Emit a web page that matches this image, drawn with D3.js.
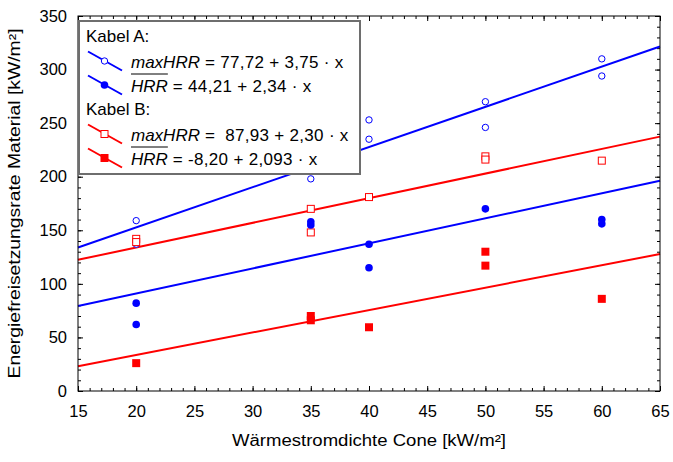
<!DOCTYPE html>
<html>
<head>
<meta charset="utf-8">
<script src="https://cdn.jsdelivr.net/npm/d3@7"></script>
<style>
  html, body { margin: 0; padding: 0; background: #ffffff; }
  svg text { font-family: "Liberation Sans", Arial, sans-serif; fill: #000; }
</style>
</head>
<body>
<svg id="chart" width="673" height="462"></svg>
<script>
// -----------------------------
// Data
// -----------------------------
// Kabel A, maxHRR (open circles)
const aMaxX = [20, 20, 35, 40, 40, 50, 50, 60, 60];
const aMaxY = [159, 137, 198, 253, 235, 270, 246, 310, 294];
// Kabel A, mean HRR (filled circles)
const aMeanX = [20, 20, 35, 35, 40, 40, 50, 60, 60];
const aMeanY = [82, 62, 158, 155, 137, 115, 170, 160, 156];
// Kabel B, maxHRR (open squares)
const bMaxX = [20, 20, 35, 35, 40, 50, 50, 60];
const bMaxY = [142, 139, 170, 148, 181, 219, 216, 215];
// Kabel B, mean HRR (filled squares)
const bMeanX = [20, 35, 35, 40, 50, 50, 60];
const bMeanY = [26, 70, 66, 59.5, 130, 117, 86];

// regression lines: intercept + slope * x
const fitNames = ["aMax", "aMean", "bMax", "bMean"];
const fitIntercepts = [77.72, 44.21, 87.93, -8.20];
const fitSlopes = [3.75, 2.34, 2.30, 2.093];
const fitColors = ["#0000ff", "#0000ff", "#ff0000", "#ff0000"];

const xTicks = [15, 20, 25, 30, 35, 40, 45, 50, 55, 60, 65];
const yTicks = [0, 50, 100, 150, 200, 250, 300, 350];

const xTitle = "Wärmestromdichte Cone [kW/m²]";
const yTitle = "Energiefreisetzungsrate Material [kW/m²]";

// -----------------------------
// Scales
// -----------------------------
const svg = d3.select("#chart");
const plotLeft = 78, plotRight = 660, plotTop = 16, plotBottom = 391;

const x = d3.scaleLinear().domain([15, 65]).range([plotLeft, plotRight]);
const y = d3.scaleLinear().domain([0, 350]).range([plotBottom, plotTop]);

// -----------------------------
// Axes (ticks point inward)
// -----------------------------
function styleAxis(g) {
  g.select(".domain").remove();
  g.selectAll("line").attr("stroke", "#000").attr("stroke-width", 1);
  g.selectAll("text").style("font-size", "16.5px").attr("fill", "#000");
}

// bottom
svg.append("g")
  .attr("transform", `translate(0,${plotBottom})`)
  .call(d3.axisBottom(x).tickValues(d3.range(15, 66, 1)).tickSize(-3).tickFormat(""))
  .call(styleAxis);
svg.append("g")
  .attr("transform", `translate(0,${plotBottom})`)
  .call(d3.axisBottom(x).tickValues(xTicks).tickSize(-5).tickPadding(14).tickFormat(d3.format("d")))
  .call(styleAxis);
// top
svg.append("g")
  .attr("transform", `translate(0,${plotTop})`)
  .call(d3.axisTop(x).tickValues(d3.range(15, 66, 1)).tickSize(-3).tickFormat(""))
  .call(styleAxis);
svg.append("g")
  .attr("transform", `translate(0,${plotTop})`)
  .call(d3.axisTop(x).tickValues(xTicks).tickSize(-5).tickFormat(""))
  .call(styleAxis);
// left
svg.append("g")
  .attr("transform", `translate(${plotLeft},0)`)
  .call(d3.axisLeft(y).tickValues(d3.range(0, 351, 10)).tickSize(-3).tickFormat(""))
  .call(styleAxis);
svg.append("g")
  .attr("transform", `translate(${plotLeft},0)`)
  .call(d3.axisLeft(y).tickValues(yTicks).tickSize(-5).tickPadding(11).tickFormat(d3.format("d")))
  .call(styleAxis);
// right
svg.append("g")
  .attr("transform", `translate(${plotRight},0)`)
  .call(d3.axisRight(y).tickValues(d3.range(0, 351, 10)).tickSize(-3).tickFormat(""))
  .call(styleAxis);
svg.append("g")
  .attr("transform", `translate(${plotRight},0)`)
  .call(d3.axisRight(y).tickValues(yTicks).tickSize(-5).tickFormat(""))
  .call(styleAxis);

// -----------------------------
// Regression lines
// -----------------------------
const line = d3.line().x((d) => x(d[0])).y((d) => y(d[1]));
const plot = svg.append("g");

fitNames.forEach((name, i) => {
  const pts = [15, 65].map((v) => [v, fitIntercepts[i] + fitSlopes[i] * v]);
  plot.append("path")
    .attr("d", line(pts))
    .attr("fill", "none")
    .attr("stroke", fitColors[i])
    .attr("stroke-width", 2);
});

// -----------------------------
// Markers
// -----------------------------
function drawMarker(g, kind, cx, cy) {
  if (kind === "openCircle") {
    g.append("circle").attr("cx", cx).attr("cy", cy).attr("r", 3.2)
      .attr("fill", "#fff").attr("stroke", "#0000ff").attr("stroke-width", 1);
  } else if (kind === "filledCircle") {
    g.append("circle").attr("cx", cx).attr("cy", cy).attr("r", 3.8)
      .attr("fill", "#0000ff");
  } else if (kind === "openSquare") {
    g.append("rect").attr("x", cx - 3.5).attr("y", cy - 3.5).attr("width", 7).attr("height", 7)
      .attr("fill", "#fff").attr("stroke", "#ff0000").attr("stroke-width", 1);
  } else {
    g.append("rect").attr("x", cx - 4).attr("y", cy - 4).attr("width", 8).attr("height", 8)
      .attr("fill", "#ff0000");
  }
}

const seriesList = [
  { xs: aMaxX, ys: aMaxY, kind: "openCircle" },
  { xs: bMaxX, ys: bMaxY, kind: "openSquare" },
  { xs: aMeanX, ys: aMeanY, kind: "filledCircle" },
  { xs: bMeanX, ys: bMeanY, kind: "filledSquare" },
];
seriesList.forEach((s) => {
  s.xs.forEach((v, j) => drawMarker(plot, s.kind, x(v), y(s.ys[j])));
});

// frame
svg.append("rect")
  .attr("x", plotLeft).attr("y", plotTop)
  .attr("width", plotRight - plotLeft).attr("height", plotBottom - plotTop)
  .attr("fill", "none").attr("stroke", "#000").attr("stroke-width", 1);

// -----------------------------
// Legend
// -----------------------------
const legend = svg.append("g");
legend.append("rect")
  .attr("x", 79).attr("y", 21).attr("width", 281).attr("height", 153)
  .attr("fill", "#fff").attr("stroke", "#6e6e6e").attr("stroke-width", 2);

const legendRows = [
  { head: "Kabel A:", y: 42 },
  { name: "maxHRR", bar: false, rest: " = 77,72 + 3,75 · x", kind: "openCircle", color: "#0000ff", y: 61 },
  { name: "HRR", bar: true, rest: " = 44,21 + 2,34 · x", kind: "filledCircle", color: "#0000ff", y: 85 },
  { head: "Kabel B:", y: 115 },
  { name: "maxHRR", bar: false, rest: " =  87,93 + 2,30 · x", kind: "openSquare", color: "#ff0000", y: 134 },
  { name: "HRR", bar: true, rest: " = -8,20 + 2,093 · x", kind: "filledSquare", color: "#ff0000", y: 158 },
];

legendRows.forEach((r) => {
  if (r.head) {
    legend.append("text").attr("x", 86).attr("y", r.y)
      .style("font-size", "17px").text(r.head);
    return;
  }
  legend.append("line")
    .attr("x1", 88).attr("y1", r.y - 9.5).attr("x2", 122).attr("y2", r.y + 9.5)
    .attr("stroke", r.color).attr("stroke-width", 2);
  drawMarker(legend, r.kind, 104.5, r.y);

  const base = r.y + 6.5;
  const nameText = legend.append("text").attr("x", 131).attr("y", base)
    .style("font-size", "17px").style("font-style", "italic").text(r.name);
  const w = nameText.node().getComputedTextLength();
  if (r.bar) {
    legend.append("line")
      .attr("x1", 131).attr("x2", 131 + w)
      .attr("y1", base - 17.5).attr("y2", base - 17.5)
      .attr("stroke", "#000").attr("stroke-width", 1);
  }
  legend.append("text").attr("x", 131 + w).attr("y", base)
    .style("font-size", "17px").style("letter-spacing", "0.3px")
    .style("white-space", "pre").text(r.rest);
});

// -----------------------------
// Axis titles
// -----------------------------
svg.append("text")
  .attr("x", (plotLeft + plotRight) / 2).attr("y", 446)
  .attr("text-anchor", "middle").style("font-size", "16px")
  .attr("textLength", 274).attr("lengthAdjust", "spacingAndGlyphs")
  .text(xTitle);

svg.append("text")
  .attr("transform", `translate(20,${(plotTop + plotBottom) / 2}) rotate(-90)`)
  .attr("text-anchor", "middle").style("font-size", "16px")
  .attr("textLength", 350).attr("lengthAdjust", "spacingAndGlyphs")
  .text(yTitle);
</script>
</body>
</html>
